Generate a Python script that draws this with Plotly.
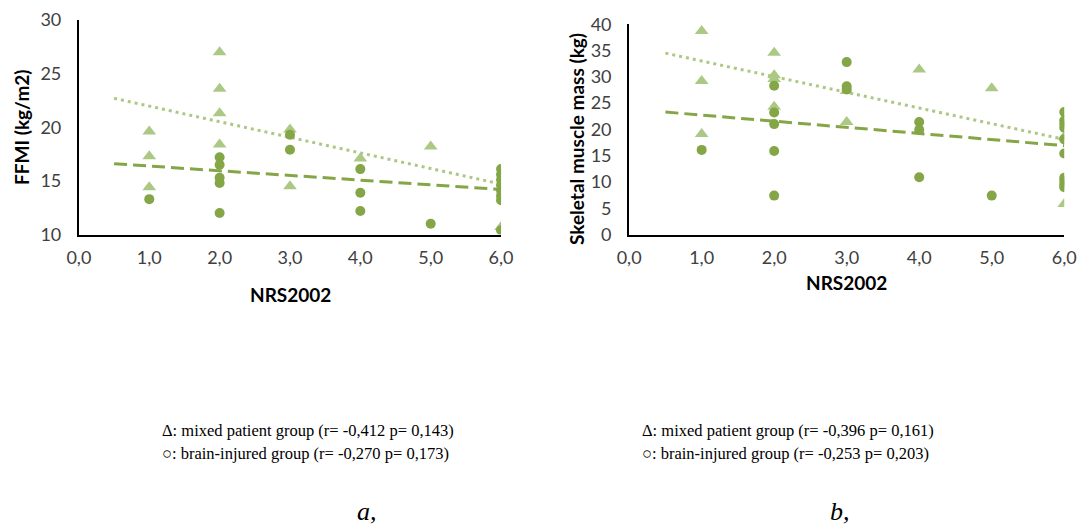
import plotly.graph_objects as go

# ---- data: panel a (FFMI) ----
a_mixed_x = [1, 1, 1, 2, 2, 2, 2, 3, 3, 4, 5, 6]
a_mixed_y = [19.6, 17.3, 14.4, 27.0, 23.6, 21.3, 18.4, 19.8, 14.5, 17.1, 18.2, 10.7]
a_brain_x = [1, 2, 2, 2, 2, 2, 3, 3, 4, 4, 4, 5, 6, 6, 6, 6, 6, 6, 6, 6]
a_brain_y = [13.3, 17.2, 16.5, 15.3, 14.8, 12.0, 19.3, 17.9, 16.1, 13.9, 12.2, 11.0,
             16.1, 15.6, 15.1, 14.6, 14.1, 13.6, 13.2, 10.4]
a_trend_x = [0.5, 6.0]
a_trend_mixed = [22.7, 14.7]
a_trend_brain = [16.6, 14.2]

# ---- data: panel b (Skeletal muscle mass) ----
b_mixed_x = [1, 1, 1, 2, 2, 2, 2, 3, 3, 4, 5, 6, 6]
b_mixed_y = [38.7, 29.2, 19.1, 34.6, 30.3, 29.6, 24.3, 27.3, 21.4, 31.4, 27.8, 18.6, 5.8]
b_brain_x = [1, 2, 2, 2, 2, 2, 3, 3, 3, 4, 4, 4, 5, 6, 6, 6, 6, 6, 6, 6, 6, 6, 6]
b_brain_y = [16.1, 28.3, 23.2, 21.0, 15.9, 7.4, 32.8, 28.2, 27.6, 21.4, 19.9, 10.9, 7.4,
             23.3, 21.7, 21.0, 20.3, 18.1, 15.4, 10.8, 10.2, 9.5, 9.0]
b_trend_x = [0.5, 6.0]
b_trend_mixed = [34.5, 18.1]
b_trend_brain = [23.3, 16.9]

x_ticks = [0, 1, 2, 3, 4, 5, 6]
x_ticklabels = ["0,0", "1,0", "2,0", "3,0", "4,0", "5,0", "6,0"]
a_yticks = [10, 15, 20, 25, 30]
b_yticks = [0, 5, 10, 15, 20, 25, 30, 35, 40]

captions_a = ["Δ: mixed patient group (r= -0,412 p= 0,143)",
              "○: brain-injured group (r= -0,270 p= 0,173)"]
captions_b = ["Δ: mixed patient group (r= -0,396 p= 0,161)",
              "○: brain-injured group (r= -0,253 p= 0,203)"]

TRI = "#abc985"
CIR = "#84a646"

fig = go.Figure()

def add_panel(xa, ya, mx, my, bx, by, tx, tm, tb):
    fig.add_trace(go.Scatter(x=tx, y=tm, mode="lines", xaxis=xa, yaxis=ya,
                             line=dict(color=TRI, width=3, dash="3px,4px"), hoverinfo="skip"))
    fig.add_trace(go.Scatter(x=tx, y=tb, mode="lines", xaxis=xa, yaxis=ya,
                             line=dict(color=CIR, width=3, dash="13px,6px"), hoverinfo="skip"))
    fig.add_trace(go.Scatter(x=mx, y=my, mode="markers", xaxis=xa, yaxis=ya,
                             marker=dict(symbol="triangle-up", size=12, color=TRI)))
    fig.add_trace(go.Scatter(x=bx, y=by, mode="markers", xaxis=xa, yaxis=ya,
                             marker=dict(symbol="circle", size=10, color=CIR)))

add_panel("x", "y", a_mixed_x, a_mixed_y, a_brain_x, a_brain_y, a_trend_x, a_trend_mixed, a_trend_brain)
add_panel("x2", "y2", b_mixed_x, b_mixed_y, b_brain_x, b_brain_y, b_trend_x, b_trend_mixed, b_trend_brain)

tickfont = dict(family="Lato", size=18, color="#404040")
titlefont = dict(family="Lato", size=19, color="#000000", weight="bold")

common_x = dict(range=[0, 6], tickvals=x_ticks, ticktext=x_ticklabels, showgrid=False,
                zeroline=False, showline=True, linecolor="black", linewidth=2,
                ticks="", tickfont=tickfont, ticklabelstandoff=6, automargin=False)
common_y = dict(showgrid=False, zeroline=False, showline=True, linecolor="black",
                linewidth=2, ticks="", tickfont=tickfont, ticklabelstandoff=12, automargin=False)

fig.update_layout(
    width=1081, height=527,
    margin=dict(l=0, r=0, t=0, b=0, autoexpand=False),
    paper_bgcolor="white", plot_bgcolor="white",
    showlegend=False,
    xaxis=dict(domain=[0.073, 0.4635], anchor="y", **common_x),
    yaxis=dict(domain=[0.555, 0.962], anchor="x", range=[10, 30], tickvals=a_yticks, **common_y),
    xaxis2=dict(domain=[0.582, 0.9845], anchor="y2", **common_x),
    yaxis2=dict(domain=[0.555, 0.954], anchor="x2", range=[0, 40], tickvals=b_yticks, **common_y),
)

ann = []
ann.append(dict(text="FFMI (kg/m2)", x=22, y=127, textangle=-90, showarrow=False, font=titlefont))
ann.append(dict(text="NRS2002", x=290, y=294, font=titlefont, showarrow=False))
ann.append(dict(text="Skeletal muscle mass (kg)", x=577, y=139, textangle=-90, showarrow=False,
                font=titlefont))
ann.append(dict(text="NRS2002", x=846, y=282, font=titlefont, showarrow=False))

for a in ann:
    a["xref"] = "paper"; a["yref"] = "paper"
    a["x"] = a["x"] / 1081
    a["y"] = 1 - a["y"] / 527
    a["xanchor"] = "center"; a["yanchor"] = "middle"

serif = dict(family="Liberation Serif", size=16.5, color="black")
for i, t in enumerate(captions_a):
    ann.append(dict(text=t, x=160 / 1081, y=1 - (430 + 23 * i) / 527, xref="paper", yref="paper",
                    xanchor="left", yanchor="middle", showarrow=False, font=serif))
for i, t in enumerate(captions_b):
    ann.append(dict(text=t, x=640 / 1081, y=1 - (430 + 23 * i) / 527, xref="paper", yref="paper",
                    xanchor="left", yanchor="middle", showarrow=False, font=serif))
ann.append(dict(text="<i>a,</i>", x=367 / 1081, y=1 - 511 / 527, xref="paper", yref="paper",
                xanchor="center", yanchor="middle", showarrow=False,
                font=dict(family="Liberation Serif", size=26, color="black")))
ann.append(dict(text="<i>b,</i>", x=840 / 1081, y=1 - 511 / 527, xref="paper", yref="paper",
                xanchor="center", yanchor="middle", showarrow=False,
                font=dict(family="Liberation Serif", size=26, color="black")))

fig.update_layout(annotations=ann)
fig.write_html("out.html")
